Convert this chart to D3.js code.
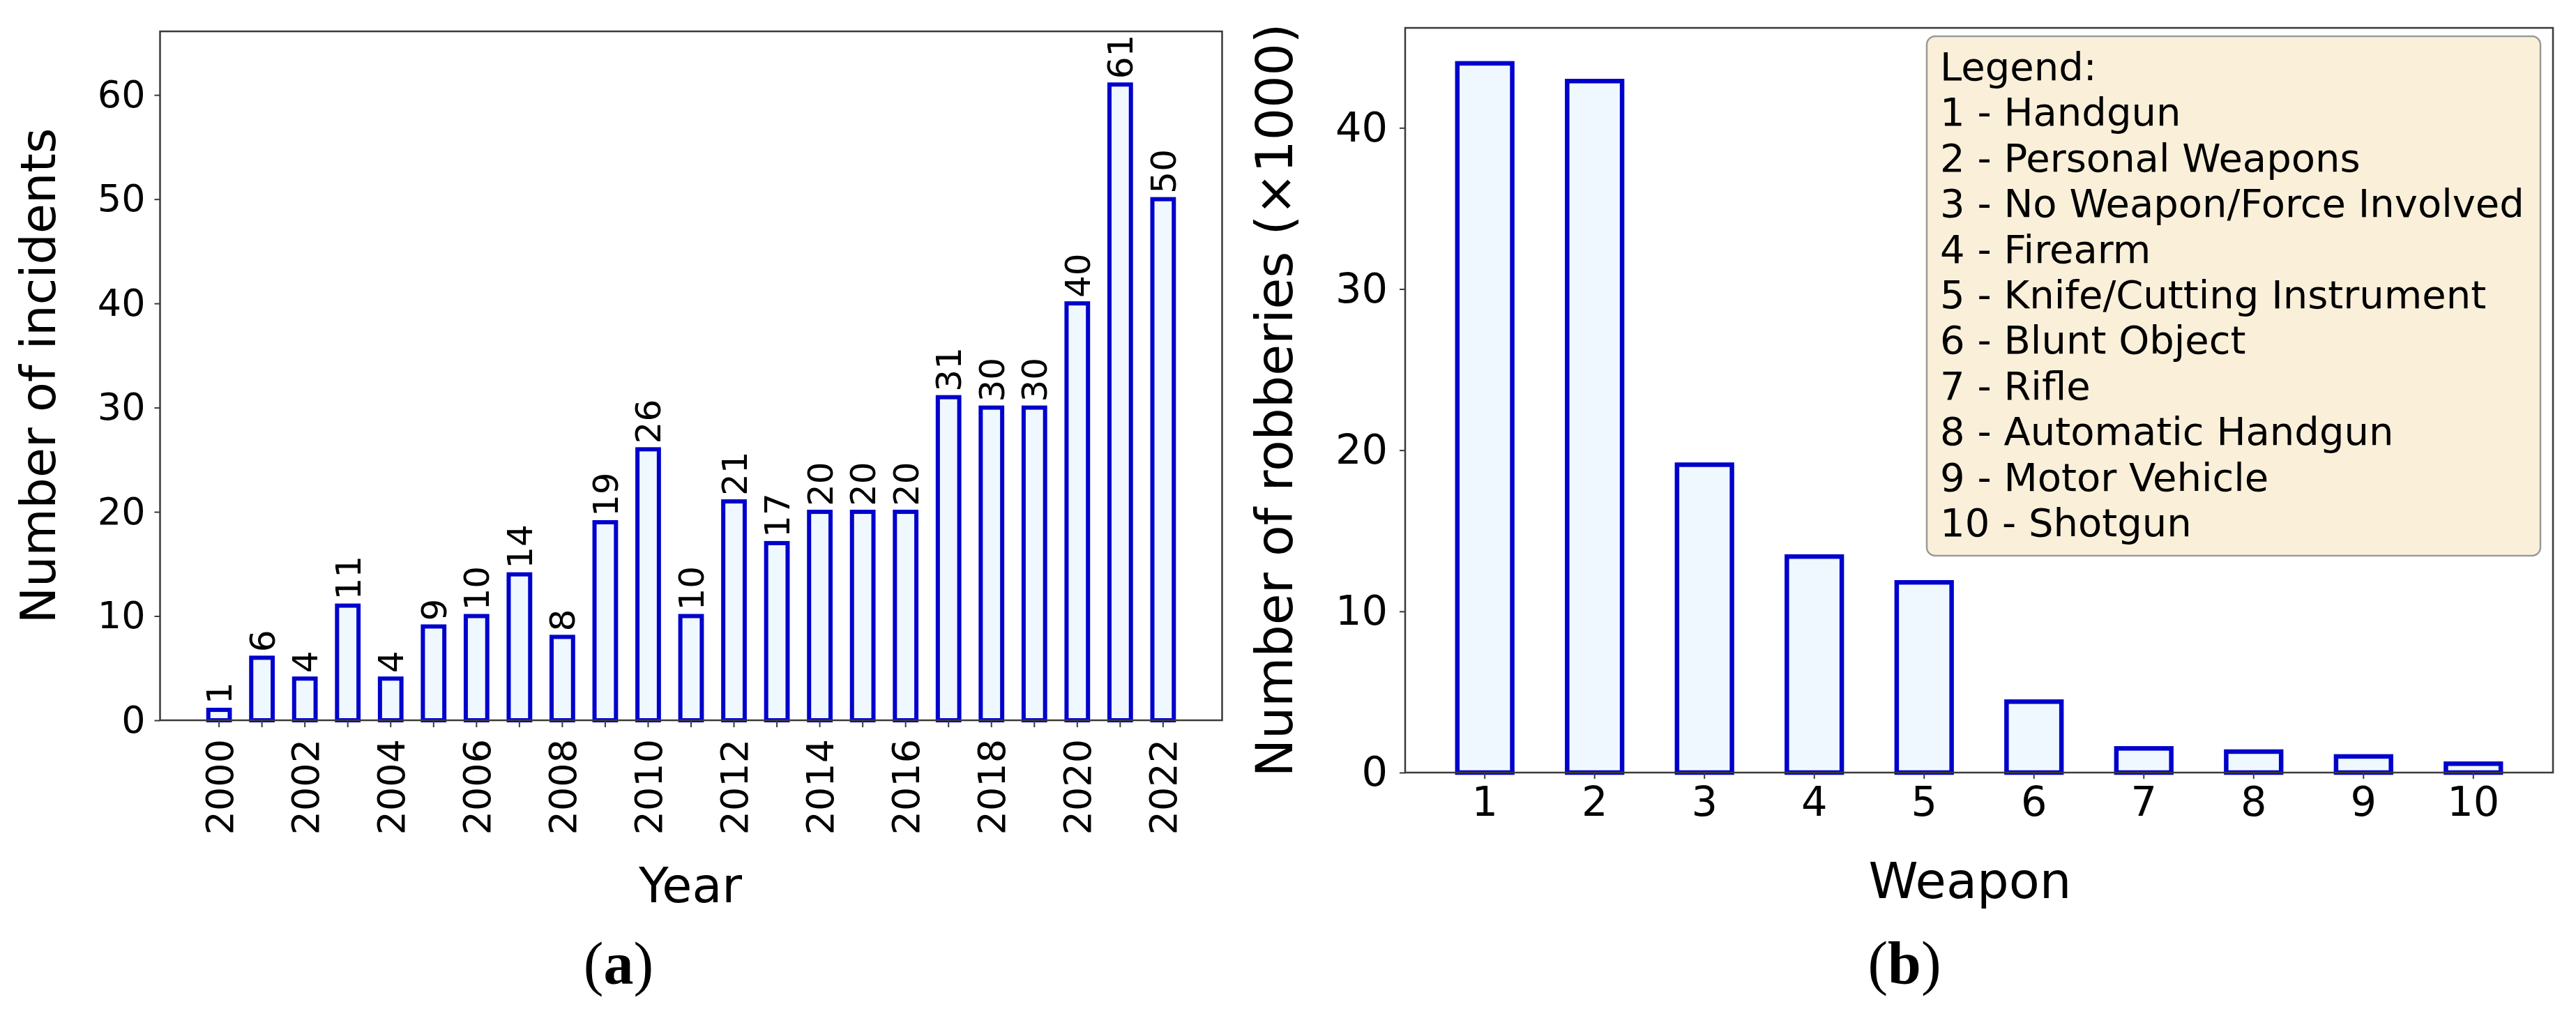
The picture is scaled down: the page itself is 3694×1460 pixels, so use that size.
<!DOCTYPE html>
<html>
<head>
<meta charset="utf-8">
<script src="https://cdn.jsdelivr.net/npm/d3@7"></script>
<style>
html,body{margin:0;padding:0;background:#fff;}
svg{display:block;}
text{font-family:"DejaVu Sans",sans-serif;fill:#000;}
</style>
</head>
<body>
<svg id="chart" width="3694" height="1460"></svg>
<script>
// ---- data ----
const years = [2000,2001,2002,2003,2004,2005,2006,2007,2008,2009,2010,2011,2012,2013,2014,2015,2016,2017,2018,2019,2020,2021,2022];
const incidents = [1,6,4,11,4,9,10,14,8,19,26,10,21,17,20,20,20,31,30,30,40,61,50];
const leftYTicks = [0,10,20,30,40,50,60];

const weapons = [1,2,3,4,5,6,7,8,9,10];
const robberies = [44.0,42.9,19.1,13.4,11.8,4.4,1.5,1.3,1.0,0.55];
const rightYTicks = [0,10,20,30,40];
const weaponNames = ["Handgun","Personal Weapons","No Weapon/Force Involved","Firearm","Knife/Cutting Instrument","Blunt Object","Rifle","Automatic Handgun","Motor Vehicle","Shotgun"];

const svg = d3.select("#chart");
const barFill = "#F0F8FF", barStroke = "#0000CC", spine = "#3a3a3a";

// ================= LEFT PANEL =================
const L = {x0:229.5, x1:1752.5, y0:45, y1:1033};
const xL = d3.scaleBand().domain(years).range([L.x0, L.x1]).paddingInner(0.5).paddingOuter(1.125);
const yL = d3.scaleLinear().domain([0, 66.1]).range([L.y1, L.y0]);

const gL = svg.append("g");
gL.selectAll("rect.bar").data(years).join("rect")
  .attr("class","bar")
  .attr("x", d => xL(d))
  .attr("width", xL.bandwidth())
  .attr("y", (d,i) => yL(incidents[i]))
  .attr("height", (d,i) => yL(0) - yL(incidents[i]))
  .attr("fill", barFill).attr("stroke", barStroke).attr("stroke-width", 6);

// value labels
gL.selectAll("text.val").data(years).join("text")
  .attr("class","val")
  .attr("transform", (d,i) => `translate(${xL(d)+xL.bandwidth()/2},${yL(incidents[i])-8}) rotate(-90)`)
  .attr("dy","0.36em")
  .attr("text-anchor","start")
  .style("font-size","50px")
  .text((d,i) => incidents[i]);

// y axis
const axLY = gL.append("g").attr("transform",`translate(${L.x0},0)`)
  .call(d3.axisLeft(yL).tickValues(leftYTicks).tickSize(8).tickPadding(13));
axLY.select(".domain").remove();
axLY.selectAll("line").attr("stroke", spine).attr("stroke-width", 2);
axLY.selectAll("text").style("font-size","54px").style("font-family","DejaVu Sans");

// x axis
const axLX = gL.append("g").attr("transform",`translate(0,${L.y1})`)
  .call(d3.axisBottom(xL).tickSize(10).tickFormat(d => d % 2 === 0 ? d : ""));
axLX.select(".domain").remove();
axLX.selectAll("line").attr("stroke", spine).attr("stroke-width", 2);
axLX.selectAll("text")
  .attr("y", null).attr("dy","0.36em")
  .attr("transform","rotate(-90)")
  .attr("x", -27)
  .attr("text-anchor","end")
  .style("font-size","54px").style("font-family","DejaVu Sans");

// frame
gL.append("rect").attr("x",L.x0).attr("y",L.y0).attr("width",L.x1-L.x0).attr("height",L.y1-L.y0)
  .attr("fill","none").attr("stroke",spine).attr("stroke-width",2.5);

// axis labels
gL.append("text").attr("transform","translate(79,539) rotate(-90)")
  .attr("text-anchor","middle").style("font-size","70px").text("Number of incidents");
gL.append("text").attr("x",990).attr("y",1294)
  .attr("text-anchor","middle").style("font-size","70px").text("Year");

// caption (a)
const capA = gL.append("text").attr("x",887).attr("y",1411).attr("text-anchor","middle")
  .style("font-family","'Liberation Serif',serif").style("font-size","86px");
capA.append("tspan").text("(");
capA.append("tspan").style("font-weight","bold").text("a");
capA.append("tspan").text(")");

// ================= RIGHT PANEL =================
const R = {x0:2015, x1:3661, y0:40, y1:1108};
const xR = d3.scaleBand().domain(weapons).range([R.x0, R.x1]).paddingInner(0.5).paddingOuter(0.475);
const yR = d3.scaleLinear().domain([0, 46.2]).range([R.y1, R.y0]);

const gR = svg.append("g");
gR.selectAll("rect.bar").data(weapons).join("rect")
  .attr("class","bar")
  .attr("x", d => xR(d))
  .attr("width", xR.bandwidth())
  .attr("y", (d,i) => yR(robberies[i]))
  .attr("height", (d,i) => yR(0) - yR(robberies[i]))
  .attr("fill", barFill).attr("stroke", barStroke).attr("stroke-width", 6.5);

const axRY = gR.append("g").attr("transform",`translate(${R.x0},0)`)
  .call(d3.axisLeft(yR).tickValues(rightYTicks).tickSize(8).tickPadding(17));
axRY.select(".domain").remove();
axRY.selectAll("line").attr("stroke", spine).attr("stroke-width", 2);
axRY.selectAll("text").style("font-size","59px").style("font-family","DejaVu Sans");

const axRX = gR.append("g").attr("transform",`translate(0,${R.y1})`)
  .call(d3.axisBottom(xR).tickSize(9));
axRX.select(".domain").remove();
axRX.selectAll("line").attr("stroke", spine).attr("stroke-width", 2);
axRX.selectAll("text").attr("dy", null).attr("y", 62)
  .style("font-size","59px").style("font-family","DejaVu Sans");

gR.append("rect").attr("x",R.x0).attr("y",R.y0).attr("width",R.x1-R.x0).attr("height",R.y1-R.y0)
  .attr("fill","none").attr("stroke",spine).attr("stroke-width",2.5);

gR.append("text").attr("transform","translate(1853,574) rotate(-90)")
  .attr("text-anchor","middle").style("font-size","73px").text("Number of robberies (×1000)");
gR.append("text").attr("x",2825).attr("y",1288)
  .attr("text-anchor","middle").style("font-size","72px").text("Weapon");

const capB = gR.append("text").attr("x",2731).attr("y",1410).attr("text-anchor","middle")
  .style("font-family","'Liberation Serif',serif").style("font-size","86px");
capB.append("tspan").text("(");
capB.append("tspan").style("font-weight","bold").text("b");
capB.append("tspan").text(")");

// legend box
const legendLines = ["Legend:"].concat(weapons.map((w,i) => `${w} - ${weaponNames[i]}`));
const lg = gR.append("g");
lg.append("rect").attr("x",2763).attr("y",52).attr("width",880).attr("height",745)
  .attr("rx",12).attr("ry",12)
  .attr("fill","#FAEFD9").attr("stroke","#9a9a9a").attr("stroke-width",2.5);
lg.selectAll("text").data(legendLines).join("text")
  .attr("x",2782).attr("y",(d,i) => 115 + i*65.4)
  .style("font-size","56px").text(d => d);
</script>
</body>
</html>
